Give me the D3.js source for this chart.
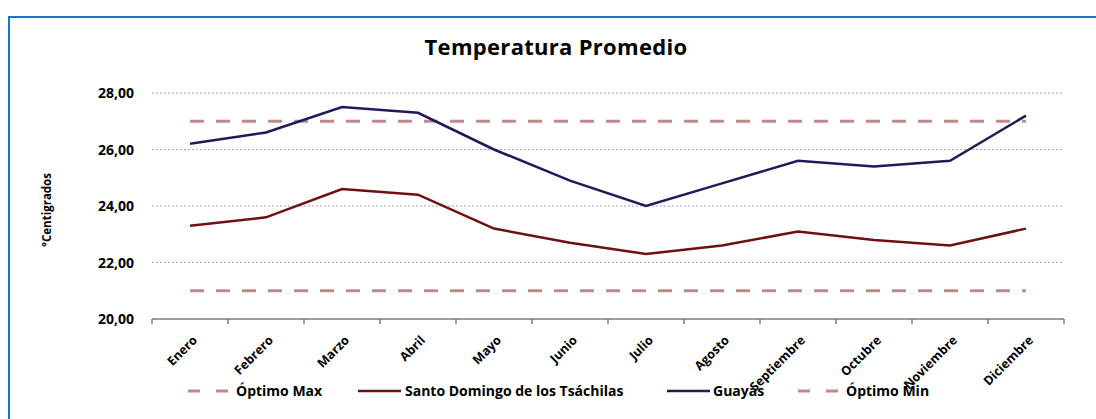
<!DOCTYPE html>
<html>
<head>
<meta charset="utf-8">
<script src="https://cdn.jsdelivr.net/npm/d3@7"></script>
<style>
  body { margin: 0; background: #fff; }
  svg text { font-family: "Open Sans", "Liberation Sans", sans-serif; font-weight: bold; fill: #000; }
</style>
</head>
<body>
<div id="chart"></div>
<script>
// Datos
const months = ['Enero', 'Febrero', 'Marzo', 'Abril', 'Mayo', 'Junio', 'Julio',
    'Agosto', 'Septiembre', 'Octubre', 'Noviembre', 'Diciembre'];
const guayas = [26.2, 26.6, 27.5, 27.3, 26.0, 24.9, 24.0, 24.8, 25.6, 25.4, 25.6, 27.2];
const santoDomingo = [23.3, 23.6, 24.6, 24.4, 23.2, 22.7, 22.3, 22.6, 23.1, 22.8, 22.6, 23.2];
const optimoMax = months.map(() => 27);
const optimoMin = months.map(() => 21);
const yTicks = [20, 22, 24, 26, 28];

const W = 1096, H = 419;
const plot = { left: 152, right: 1064, top: 93, bottom: 319 };

const svg = d3.select('#chart').append('svg')
    .attr('width', W)
    .attr('height', H);

// marco azul
svg.append('rect')
    .attr('x', 9).attr('y', 17)
    .attr('width', 1100).attr('height', 430)
    .attr('fill', 'none')
    .attr('stroke', '#1b74c8')
    .attr('stroke-width', 2);

svg.append('text')
    .attr('x', 556).attr('y', 55)
    .attr('text-anchor', 'middle')
    .style('font-size', '22px')
    .style('letter-spacing', '0.3px')
    .text('Temperatura Promedio');

const x = d3.scaleBand()
    .domain(months)
    .range([plot.left, plot.right]);

const y = d3.scaleLinear()
    .domain([20, 28])
    .range([plot.bottom, plot.top]);

const cx = d => x(d) + x.bandwidth() / 2;

// lineas de cuadricula
svg.append('g')
    .selectAll('line')
    .data(yTicks.filter(t => t > 20))
    .enter()
    .append('line')
    .attr('x1', plot.left).attr('x2', plot.right)
    .attr('y1', d => y(d)).attr('y2', d => y(d))
    .attr('stroke', '#a8a8a8')
    .attr('stroke-width', 1)
    .attr('stroke-dasharray', '2,2');

// eje y (solo etiquetas)
svg.append('g')
    .selectAll('text')
    .data(yTicks)
    .enter()
    .append('text')
    .attr('x', 134)
    .attr('y', d => y(d) + 5)
    .attr('text-anchor', 'end')
    .style('font-size', '14px')
    .text(d => d.toFixed(2).replace('.', ','));

svg.append('text')
    .attr('transform', 'translate(51,210) rotate(-90)')
    .attr('text-anchor', 'middle')
    .style('font-size', '11.5px')
    .text('°Centigrados');

// eje x
const xAxis = svg.append('g')
    .attr('transform', `translate(0,${plot.bottom})`);

xAxis.append('line')
    .attr('x1', plot.left).attr('x2', plot.right)
    .attr('stroke', '#7a7a7a')
    .attr('stroke-width', 1.5);

const tickPos = months.map(m => x(m)).concat([plot.right]);
xAxis.selectAll('line.tick')
    .data(tickPos)
    .enter()
    .append('line')
    .attr('class', 'tick')
    .attr('x1', d => d).attr('x2', d => d)
    .attr('y1', 0).attr('y2', 5)
    .attr('stroke', '#7a7a7a')
    .attr('stroke-width', 1.5);

xAxis.selectAll('text')
    .data(months)
    .enter()
    .append('text')
    .attr('text-anchor', 'end')
    .attr('transform', d => `translate(${cx(d) + 8},${22}) rotate(-45)`)
    .style('font-size', '12.5px')
    .text(d => d);

const line = d3.line()
    .x((d, i) => cx(months[i]))
    .y(d => y(d));

const series = [
    { name: 'Óptimo Max', values: optimoMax, color: '#c08a8b', width: 3, dash: '14,12' },
    { name: 'Santo Domingo de los Tsáchilas', values: santoDomingo, color: '#6e1013', width: 2.5, dash: null },
    { name: 'Guayas', values: guayas, color: '#1f1b5b', width: 2.5, dash: null },
    { name: 'Óptimo Min', values: optimoMin, color: '#c08a8b', width: 3, dash: '14,12' }
];

series.forEach(s => {
    svg.append('path')
        .datum(s.values)
        .attr('d', line)
        .attr('fill', 'none')
        .attr('stroke', s.color)
        .attr('stroke-width', s.width)
        .attr('stroke-dasharray', s.dash);
});

// leyenda
const legendPos = [
    { sx: 188, tx: 236 },
    { sx: 358, tx: 405 },
    { sx: 667, tx: 713 },
    { sx: 798, tx: 846 }
];
const legendY = 396;

series.forEach((s, i) => {
    const p = legendPos[i];
    svg.append('line')
        .attr('x1', p.sx).attr('x2', p.sx + 43)
        .attr('y1', legendY - 5).attr('y2', legendY - 5)
        .attr('stroke', s.color)
        .attr('stroke-width', s.dash ? 3 : 2.5)
        .attr('stroke-dasharray', s.dash ? '12,16' : null);
    svg.append('text')
        .attr('x', p.tx)
        .attr('y', legendY)
        .style('font-size', '14px')
        .text(s.name);
});
</script>
</body>
</html>
